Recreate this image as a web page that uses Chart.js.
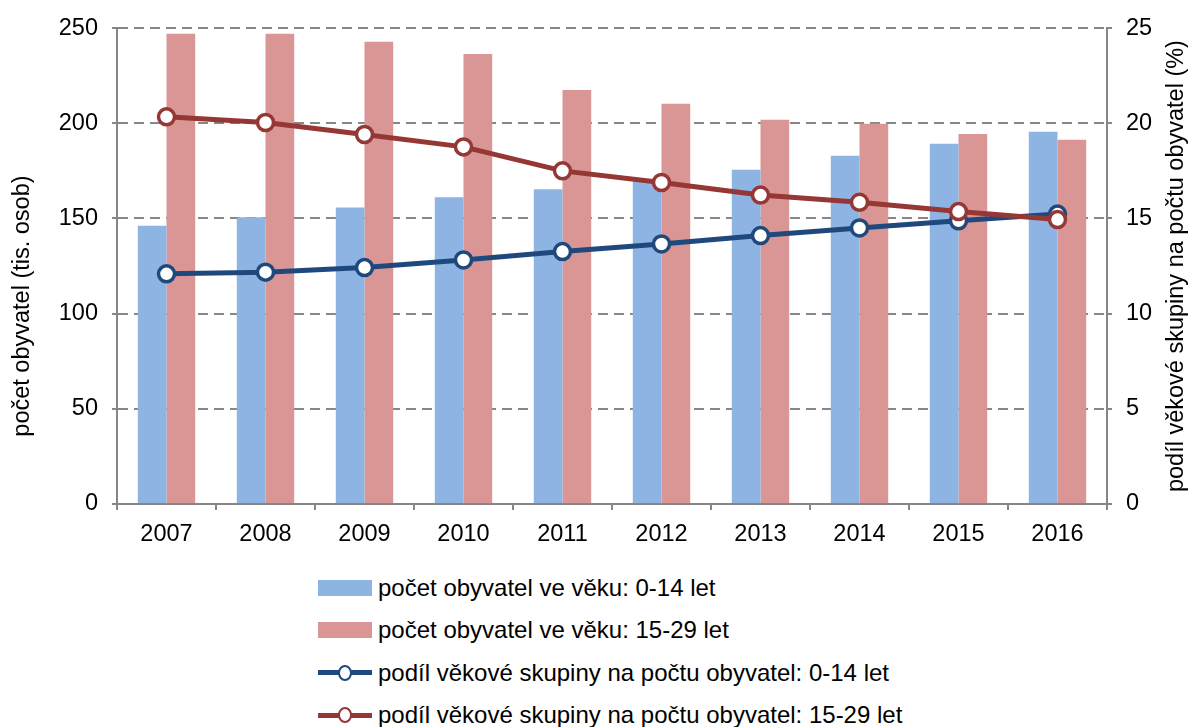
<!DOCTYPE html>
<html>
<head>
<meta charset="utf-8">
<script src="https://cdn.jsdelivr.net/npm/chart.js@4.4.0/dist/chart.umd.min.js"></script>
<style>
  body { margin: 0; background: #fff; font-family: 'Liberation Sans', Arial, sans-serif; }
  #wrap { position: relative; width: 1191px; height: 727px; }
  #box { position: absolute; left: 0; top: 0; width: 1191px; height: 560px; }
  #legend { position: absolute; left: 318px; top: 567px; }
  .row { height: 42.3px; display: flex; align-items: center; font-size: 24px; color: #000; white-space: nowrap; }
  .sw { width: 54px; height: 16px; margin-right: 6px; position: relative; flex: none; }
  .sw .ln { position: absolute; left: 0; right: 0; top: 5.5px; height: 5px; }
  .sw .pt { position: absolute; left: 20px; top: 0; width: 10px; height: 12px; border-radius: 50%; background: #fff; border: 2px solid; }
</style>
</head>
<body>
<div id="wrap">
  <div id="box"><canvas id="c"></canvas></div>
  <div id="legend"></div>
</div>
<script>
const years = ['2007', '2008', '2009', '2010', '2011', '2012', '2013', '2014', '2015', '2016'];
const pop014 = [146.2, 150.6, 155.7, 161.1, 165.3, 169.8, 175.6, 182.9, 189.2, 195.5];
const pop1529 = [247.0, 247.0, 242.8, 236.4, 217.5, 210.2, 201.8, 199.7, 194.4, 191.3];
const share014 = [12.09, 12.18, 12.42, 12.82, 13.26, 13.66, 14.10, 14.50, 14.88, 15.23];
const share1529 = [20.34, 20.04, 19.41, 18.76, 17.50, 16.89, 16.23, 15.85, 15.36, 14.94];

const leftTitle = 'počet obyvatel (tis. osob)';
const rightTitle = 'podíl věkové skupiny na počtu obyvatel (%)';

const FONT = 'Liberation Sans';
const axisGrey = '#868686';

// axis titles, both read bottom-to-top like the original
const axisTitles = {
  id: 'axisTitles',
  afterDraw(chart) {
    const { ctx, chartArea } = chart;
    const mid = (chartArea.top + chartArea.bottom) / 2;
    ctx.save();
    ctx.font = `23.5px "${FONT}"`;
    ctx.fillStyle = '#000';
    ctx.textAlign = 'center';
    ctx.textBaseline = 'middle';
    [[23, mid + 40, leftTitle], [1177, mid, rightTitle]].forEach(([x, y, text]) => {
      ctx.save();
      ctx.translate(x, y);
      ctx.rotate(-Math.PI / 2);
      ctx.fillText(text, 0, 0);
      ctx.restore();
    });
    ctx.restore();
  },
};

const datasets = [
  {
    type: 'line',
    label: 'podíl věkové skupiny na počtu obyvatel: 15-29 let',
    data: share1529,
    yAxisID: 'y1',
    borderColor: '#953735',
    borderWidth: 5,
    pointRadius: 8,
    pointBorderWidth: 3.5,
    pointBackgroundColor: '#fff',
    pointBorderColor: '#953735',
    order: 0,
  },
  {
    type: 'line',
    label: 'podíl věkové skupiny na počtu obyvatel: 0-14 let',
    data: share014,
    yAxisID: 'y1',
    borderColor: '#1F497D',
    borderWidth: 5,
    pointRadius: 8,
    pointBorderWidth: 3.5,
    pointBackgroundColor: '#fff',
    pointBorderColor: '#1F497D',
    order: 1,
  },
  {
    type: 'bar',
    label: 'počet obyvatel ve věku: 0-14 let',
    data: pop014,
    yAxisID: 'y',
    backgroundColor: '#8EB4E3',
    categoryPercentage: 0.58,
    barPercentage: 1,
    order: 2,
  },
  {
    type: 'bar',
    label: 'počet obyvatel ve věku: 15-29 let',
    data: pop1529,
    yAxisID: 'y',
    backgroundColor: '#D99694',
    categoryPercentage: 0.58,
    barPercentage: 1,
    order: 3,
  },
];

const tickFont = { family: FONT, size: 23.5 };

new Chart(document.getElementById('c'), {
  type: 'bar',
  data: { labels: years, datasets },
  plugins: [axisTitles],
  options: {
    responsive: true,
    maintainAspectRatio: false,
    animation: false,
    layout: { padding: { top: 27, left: 0, right: 0, bottom: 0 } },
    plugins: { legend: { display: false }, tooltip: { enabled: false } },
    scales: {
      x: {
        offset: true,
        grid: { offset: true, drawOnChartArea: false, tickLength: 6, color: axisGrey, lineWidth: 2 },
        border: { color: axisGrey, width: 2 },
        ticks: { color: '#000', font: tickFont, padding: 10, maxRotation: 0 },
        afterFit: (s) => { s.height = 56; },
      },
      y: {
        position: 'left',
        min: 0,
        max: 250,
        ticks: { stepSize: 50, color: '#000', font: tickFont, padding: 14 },
        grid: { color: '#878787', lineWidth: 2, tickLength: 5, tickColor: axisGrey },
        border: { color: axisGrey, width: 2, dash: [10, 6] },
        afterFit: (s) => { s.width = 117; },
      },
      y1: {
        position: 'right',
        min: 0,
        max: 25,
        ticks: { stepSize: 5, color: '#000', font: tickFont, padding: 14 },
        grid: { drawOnChartArea: false, tickLength: 5, color: axisGrey, lineWidth: 2 },
        border: { color: axisGrey, width: 2 },
        afterFit: (s) => { s.width = 84; },
      },
    },
  },
});

// legend, listed in the original order
const legendOrder = [2, 3, 1, 0];
const legend = document.getElementById('legend');
legendOrder.forEach((i) => {
  const ds = datasets[i];
  const row = document.createElement('div');
  row.className = 'row';
  const sw = document.createElement('div');
  sw.className = 'sw';
  if (ds.type === 'bar') {
    sw.style.background = ds.backgroundColor;
  } else {
    sw.innerHTML = `<div class="ln" style="background:${ds.borderColor}"></div>` +
      `<div class="pt" style="border-color:${ds.borderColor}"></div>`;
  }
  row.appendChild(sw);
  row.appendChild(document.createTextNode(ds.label));
  legend.appendChild(row);
});
</script>
</body>
</html>
